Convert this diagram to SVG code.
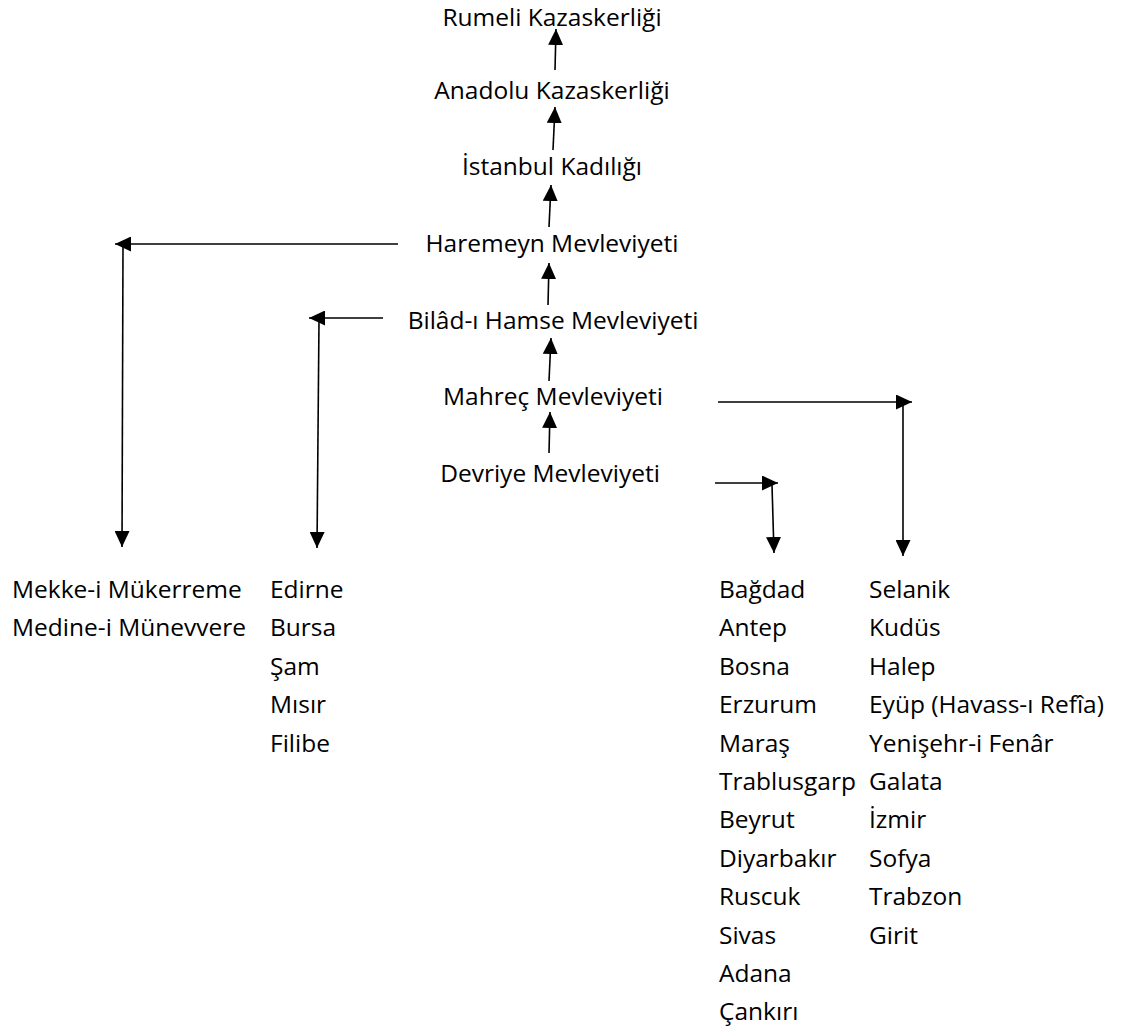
<svg xmlns="http://www.w3.org/2000/svg" width="1127" height="1031" viewBox="0 0 1127 1031">
<defs>
<marker id="ah" markerUnits="userSpaceOnUse" markerWidth="16" markerHeight="15" refX="16" refY="7.5" orient="auto" viewBox="0 0 16 15">
<path d="M0,0 L16,7.5 L0,15 z" fill="#000"/>
</marker>
<style>
text{font-family:"Open Sans","Noto Sans","DejaVu Sans",sans-serif;font-size:24.5px;fill:#000}
.c{text-anchor:middle}
.ln{stroke:#000;stroke-width:1.6;fill:none;marker-end:url(#ah)}
</style>
</defs>
<rect width="1127" height="1031" fill="#fff"/>
<g id="rumeli"><text class="c" x="552" y="26" font-size="24">Rumeli Kazaskerliği</text></g>
<g id="anadolu"><text class="c" x="552" y="99">Anadolu Kazaskerliği</text></g>
<g id="istanbul"><text class="c" x="552" y="175">İstanbul Kadılığı</text></g>
<g id="haremeyn"><text class="c" x="552" y="252">Haremeyn Mevleviyeti</text></g>
<g id="bilad"><text class="c" x="553" y="329">Bilâd-ı Hamse Mevleviyeti</text></g>
<g id="mahrec"><text class="c" x="553" y="405">Mahreç Mevleviyeti</text></g>
<g id="devriye"><text class="c" x="550" y="482">Devriye Mevleviyeti</text></g>
<g id="haremeyn-list">
<text x="12" y="598">Mekke-i Mükerreme</text>
<text x="12" y="636">Medine-i Münevvere</text>
</g>
<g id="bilad-list">
<text x="270" y="598">Edirne</text>
<text x="270" y="636">Bursa</text>
<text x="270" y="675">Şam</text>
<text x="270" y="713">Mısır</text>
<text x="270" y="752">Filibe</text>
</g>
<g id="devriye-list">
<text x="719" y="598">Bağdad</text>
<text x="719" y="636">Antep</text>
<text x="719" y="675">Bosna</text>
<text x="719" y="713">Erzurum</text>
<text x="719" y="752">Maraş</text>
<text x="719" y="790">Trablusgarp</text>
<text x="719" y="828">Beyrut</text>
<text x="719" y="867">Diyarbakır</text>
<text x="719" y="905">Ruscuk</text>
<text x="719" y="944">Sivas</text>
<text x="719" y="982">Adana</text>
<text x="719" y="1020">Çankırı</text>
</g>
<g id="mahrec-list">
<text x="869" y="598">Selanik</text>
<text x="869" y="636">Kudüs</text>
<text x="869" y="675">Halep</text>
<text x="869" y="713">Eyüp (Havass-ı Refîa)</text>
<text x="869" y="752">Yenişehr-i Fenâr</text>
<text x="869" y="790">Galata</text>
<text x="869" y="828">İzmir</text>
<text x="869" y="867">Sofya</text>
<text x="869" y="905">Trabzon</text>
<text x="869" y="944">Girit</text>
</g>
<g id="connectors">
<line class="ln" x1="555" y1="70" x2="556" y2="29"/>
<line class="ln" x1="553" y1="150" x2="555" y2="107"/>
<line class="ln" x1="549" y1="227" x2="551" y2="185"/>
<line class="ln" x1="548" y1="305" x2="549" y2="263"/>
<line class="ln" x1="549" y1="381" x2="551" y2="338"/>
<line class="ln" x1="549" y1="453" x2="550" y2="412"/>
<line class="ln" x1="398" y1="244" x2="115" y2="244"/>
<line class="ln" x1="123" y1="246" x2="122" y2="547"/>
<line class="ln" x1="383" y1="318" x2="309" y2="318"/>
<line class="ln" x1="319" y1="320" x2="317" y2="548"/>
<line class="ln" x1="718" y1="402" x2="912" y2="402"/>
<line class="ln" x1="903" y1="404" x2="903" y2="556"/>
<line class="ln" x1="715" y1="483" x2="778" y2="483"/>
<line class="ln" x1="772" y1="485" x2="774" y2="553"/>
</g>
</svg>
